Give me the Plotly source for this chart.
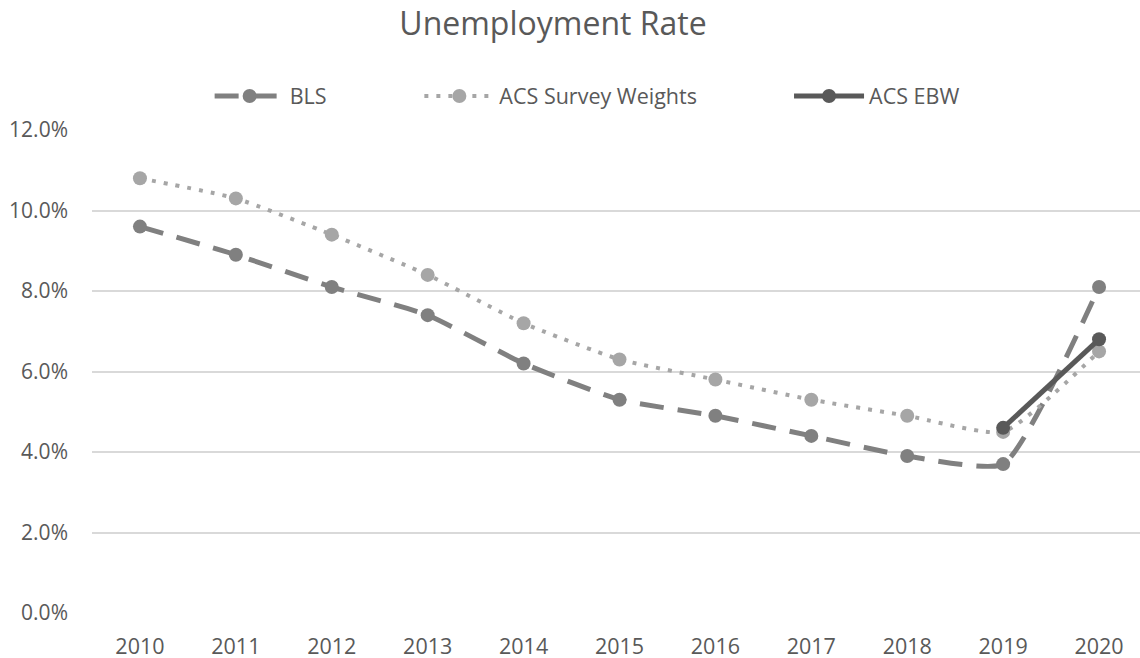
import plotly.graph_objects as go

years = ["2010", "2011", "2012", "2013", "2014", "2015", "2016", "2017", "2018", "2019", "2020"]
bls = [9.6, 8.9, 8.1, 7.4, 6.2, 5.3, 4.9, 4.4, 3.9, 3.7, 8.1]
acs_sw = [10.8, 10.3, 9.4, 8.4, 7.2, 6.3, 5.8, 5.3, 4.9, 4.5, 6.5]
ebw_years = ["2019", "2020"]
acs_ebw = [4.6, 6.8]
y_ticks = [0, 2, 4, 6, 8, 10, 12]
y_tick_labels = ["0.0%", "2.0%", "4.0%", "6.0%", "8.0%", "10.0%", "12.0%"]

fig = go.Figure()
fig.add_trace(go.Scatter(
    x=years, y=bls, name="BLS", mode="lines+markers", legend="legend",
    line=dict(color="#808080", width=5, dash="24px,14px", shape="spline", smoothing=0.5),
    marker=dict(color="#808080", size=14),
))
fig.add_trace(go.Scatter(
    x=years, y=acs_sw, name="ACS Survey Weights", mode="lines+markers", legend="legend2",
    line=dict(color="#a6a6a6", width=4, dash="4px,8px", shape="spline", smoothing=0.5),
    marker=dict(color="#a6a6a6", size=14),
))
fig.add_trace(go.Scatter(
    x=ebw_years, y=acs_ebw, name="ACS EBW", mode="lines+markers", legend="legend3",
    line=dict(color="#595959", width=5),
    marker=dict(color="#595959", size=14),
))

leg_common = dict(orientation="h", yanchor="middle", y=1.0704, xanchor="left",
                  font=dict(size=21.5, color="#595959"), itemwidth=70,
                  bgcolor="rgba(0,0,0,0)")

fig.update_layout(
    width=1148, height=658,
    showlegend=True,
    paper_bgcolor="white", plot_bgcolor="white",
    margin=dict(l=91.5, r=0.5, t=130, b=45, autoexpand=False),
    font=dict(family="Open Sans", color="#595959", size=21),
    title=dict(text="Unemployment Rate", x=0.4817, xanchor="center",
               y=0.964, yanchor="middle",
               font=dict(size=32, color="#595959")),
    legend=dict(leg_common, x=0.1115),
    legend2=dict(leg_common, x=0.3103),
    legend3=dict(leg_common, x=0.6607),
    xaxis=dict(type="category", categoryorder="array", categoryarray=years,
               range=[-0.5, 10.5], showgrid=False, showline=False, zeroline=False,
               ticks="", tickfont=dict(size=21.5, color="#595959"),
               ticklabelstandoff=18),
    yaxis=dict(range=[0, 12], tickvals=y_ticks, ticktext=y_tick_labels,
               showgrid=True, gridcolor="#d9d9d9", gridwidth=1.5, zeroline=False,
               showline=False, ticks="", tickfont=dict(size=21, color="#595959"),
               ticklabelstandoff=23),
)

fig.write_html(
    "out.html",
    config={"displayModeBar": False},
    post_script="document.body.style.margin='0px';document.body.style.overflow='hidden';",
)
